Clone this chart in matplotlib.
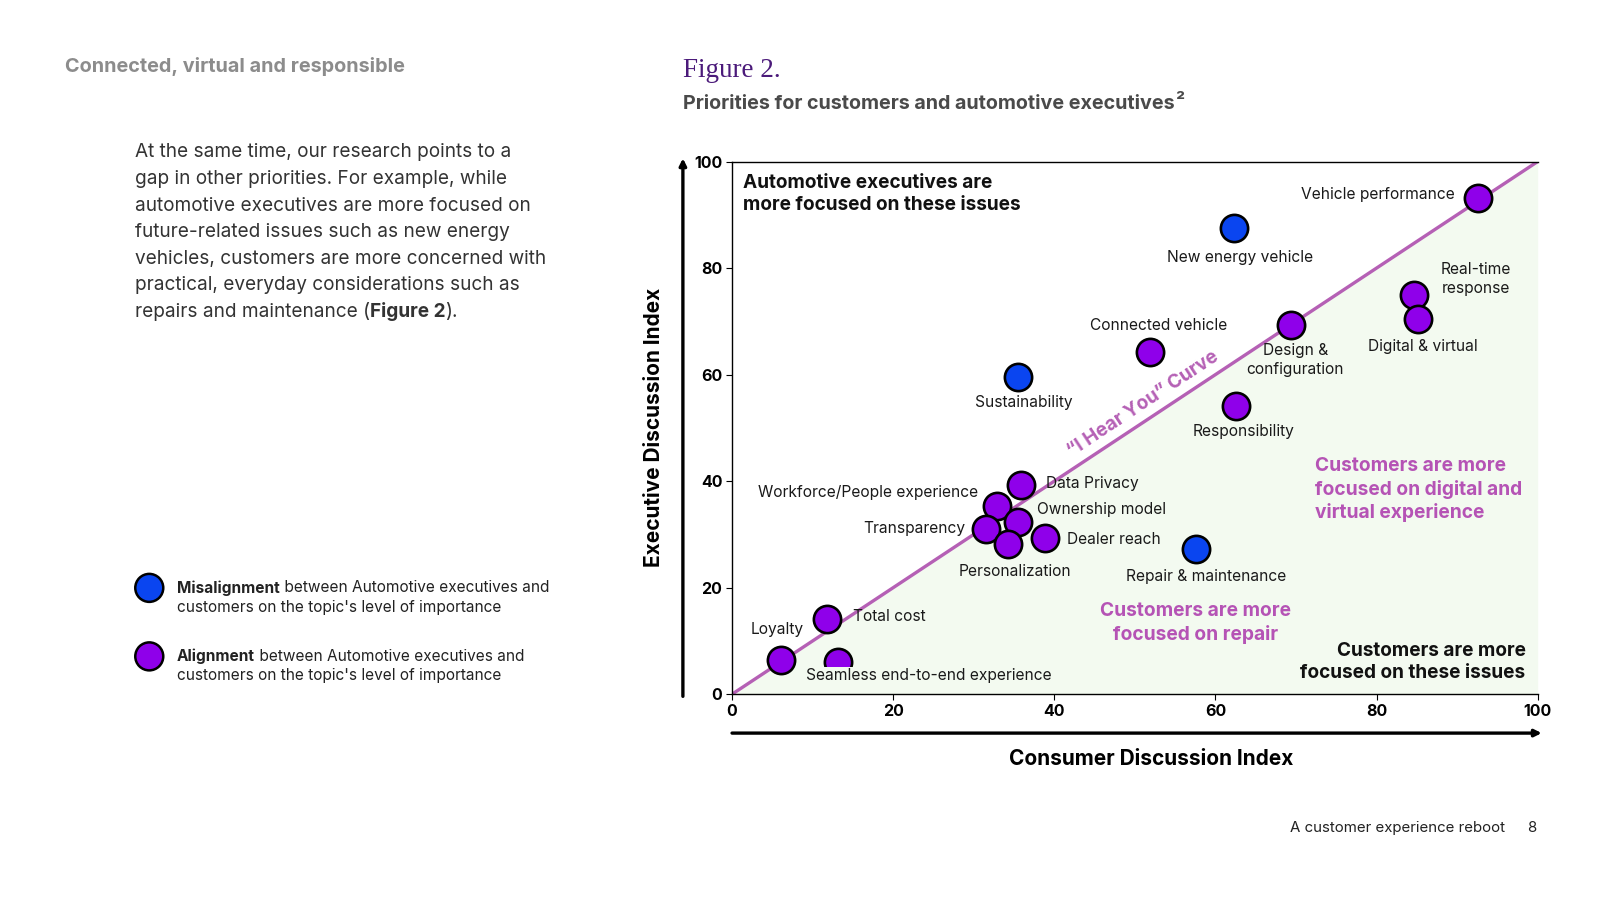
import matplotlib
matplotlib.use("Agg")
import matplotlib.pyplot as plt

plt.rcParams['font.family'] = ['Inter', 'DejaVu Sans']

# ── data ──────────────────────────────────────────────
TOPICS = ["Vehicle performance", "New energy vehicle", "Real-time\nresponse",
          "Digital & virtual", "Design &\nconfiguration", "Connected vehicle",
          "Sustainability", "Responsibility", "Data Privacy",
          "Workforce/People experience", "Ownership model", "Transparency",
          "Personalization", "Dealer reach", "Repair & maintenance",
          "Total cost", "Loyalty", "Seamless end-to-end experience"]
CONSUMER = [92.6, 62.3, 84.6, 85.2, 69.4, 51.9, 35.5, 62.6, 35.9,
            32.9, 35.5, 31.5, 34.3, 38.8, 57.6, 11.8, 6.1, 13.1]
EXECUTIVE = [93.1, 87.5, 74.9, 70.4, 69.3, 64.3, 59.5, 54.1, 39.2,
             35.3, 32.4, 31.1, 28.2, 29.4, 27.3, 14.2, 6.5, 6.0]
ALIGNED = [True, False, True, True, True, True, False, True, True,
           True, True, True, True, True, False, True, True, True]
TICKS = [0, 20, 40, 60, 80, 100]

# label offsets in pixels (dx, dy, ha)
LABEL_POS = {
    "Vehicle performance": (-23, 4, "right"),
    "New energy vehicle": (6, -29, "center"),
    "Real-time\nresponse": (61, 16, "center"),
    "Digital & virtual": (4, -27, "center"),
    "Design &\nconfiguration": (4, -34, "center"),
    "Connected vehicle": (8, 26, "center"),
    "Sustainability": (6, -25, "center"),
    "Responsibility": (7, -25, "center"),
    "Data Privacy": (24, 2, "left"),
    "Workforce/People experience": (-19, 13, "right"),
    "Ownership model": (19, 12, "left"),
    "Transparency": (-20, 0, "right"),
    "Personalization": (6, -27, "center"),
    "Dealer reach": (22, -2, "left"),
    "Repair & maintenance": (10, -27, "center"),
    "Total cost": (25, 2, "left"),
    "Loyalty": (-4, 29, "center"),
    "Seamless end-to-end experience": (89, -13, "center"),
}

BLUE = "#0a45f0"
PURPLE = "#8f00ea"
LINE = "#b560b5"
PINK = "#b553b5"
GREEN_BG = "#f3faf0"

W, H = 1600, 900
S = 1.0224  # 版面坐标是按 1565 宽量的,放大到 1600


def fx(x):
    return x * S / W


def fy(y):
    return 1 - y * S / H


fig = plt.figure(figsize=(16, 9), dpi=100)
fig.patch.set_facecolor("white")
renderer = fig.canvas.get_renderer()


def rich_line(x, y, parts, size, color):
    # 一行里混排粗细体; part = (text, weight[, size, dy])
    x = fx(x)
    for p in parts:
        s, w = p[0], p[1]
        sz = p[2] if len(p) > 2 else size
        dy = p[3] if len(p) > 3 else 0
        t = fig.text(x, fy(y + dy), s, fontsize=sz, fontweight=w, color=color,
                     ha="left", va="center")
        bb = t.get_window_extent(renderer)
        x = bb.x1 / fig.bbox.width


# ── left column ──
fig.text(fx(64), fy(65), "Connected, virtual and responsible", fontsize=14.3,
         fontweight="bold", color="#8c8c8c", va="center")

para = ["At the same time, our research points to a",
        "gap in other priorities. For example, while",
        "automotive executives are more focused on",
        "future-related issues such as new energy",
        "vehicles, customers are more concerned with",
        "practical, everyday considerations such as"]
for i, line in enumerate(para):
    fig.text(fx(132), fy(149 + 26 * i), line, fontsize=13.7, color="#333333",
             va="center")
rich_line(132, 149 + 26 * 6, [("repairs and maintenance (", "normal"),
                              ("Figure 2", "bold"), (").", "normal")],
          13.7, "#333333")

# legend
for yc, col, word in [(575, BLUE, "Misalignment"), (642, PURPLE, "Alignment")]:
    fig.patches.append(matplotlib.patches.Ellipse(
        (fx(146), fy(yc)), 28 / W, 28 / H, transform=fig.transFigure,
        facecolor=col, edgecolor="black", lw=1.8))
    rich_line(173, yc, [(word, "bold"),
                        (" between Automotive executives and", "normal")],
              11.1, "#222222")
    fig.text(fx(173), fy(yc + 19), "customers on the topic's level of importance",
             fontsize=11.1, color="#222222", va="center")

# ── titles ──
fig.text(fx(668), fy(69), "Figure 2.", fontsize=19.5, family="Liberation Serif",
         color="#4b1a7a", va="center")
rich_line(668, 102, [("Priorities for customers and automotive executives", "bold"),
                     ("\u00b2", "bold", 14.2, -1)], 14.2, "#4a4a4a")

# ── chart ──
ax = fig.add_axes([fx(716), fy(679), (1504 - 716) * S / W, (679 - 158) * S / H])
ax.set_xlim(0, 100)
ax.set_ylim(0, 100)
ax.fill_between([0, 100], [0, 100], 0, color=GREEN_BG, zorder=0, lw=0)
ax.plot([0, 100], [0, 100], color=LINE, lw=2.4, zorder=1)

for x, y, a in zip(CONSUMER, EXECUTIVE, ALIGNED):
    ax.scatter(x, y, s=385, color=PURPLE if a else BLUE, edgecolor="black",
               linewidth=1.9, zorder=3, clip_on=False)

for name, x, y in zip(TOPICS, CONSUMER, EXECUTIVE):
    dx, dy, ha = LABEL_POS[name]
    kw = {}
    if name.startswith("Seamless"):
        kw["bbox"] = dict(facecolor=GREEN_BG, edgecolor="none", pad=1)
    ax.annotate(name, (x, y), xytext=(dx * S, dy * S), textcoords="offset pixels",
                ha=ha, va="center", fontsize=11.2, color="#1a1a1a",
                linespacing=1.28, zorder=4, **kw)

ax.text(51.0, 54.4, "\u201cI Hear You\u201d Curve", rotation=45,
        transform_rotates_text=True, rotation_mode="anchor", ha="center",
        va="center", fontsize=13.7, fontweight="bold", color=LINE)

ax.text(1.4, 93.9, "Automotive executives are\nmore focused on these issues",
        fontsize=13.7, fontweight="bold", color="#111111", ha="left",
        va="center", linespacing=1.3)
ax.text(72.3, 38.4, "Customers are more\nfocused on digital and\nvirtual experience",
        fontsize=13.8, fontweight="bold", color=PINK, ha="left", va="center",
        linespacing=1.3)
ax.text(57.5, 13.4, "Customers are more\nfocused on repair", fontsize=13.8,
        fontweight="bold", color=PINK, ha="center", va="center",
        linespacing=1.3)
ax.text(98.5, 6.1, "Customers are more\nfocused on these issues", fontsize=13.7,
        fontweight="bold", color="#111111", ha="right", va="center",
        linespacing=1.3)

ax.set_xticks(TICKS)
ax.set_yticks(TICKS)
ax.tick_params(axis="both", length=4, width=0.8, labelsize=11.5, pad=3)
for lab in ax.get_xticklabels() + ax.get_yticklabels():
    lab.set_fontweight("bold")
ax.spines["right"].set_visible(False)
for s in ["top", "left", "bottom"]:
    ax.spines[s].set_linewidth(1.0)
ax.set_facecolor("white")

# axis arrows
ax.annotate("", xy=(-0.061, 1.006), xytext=(-0.061, -0.004),
            xycoords="axes fraction",
            arrowprops=dict(arrowstyle="-|>", lw=2.4, color="black",
                            mutation_scale=10, shrinkA=0, shrinkB=0))
ax.annotate("", xy=(1.005, -0.073), xytext=(0.0, -0.073),
            xycoords="axes fraction",
            arrowprops=dict(arrowstyle="-|>", lw=2.4, color="black",
                            mutation_scale=10, shrinkA=0, shrinkB=0))

fig.text(fx(640), fy(418), "Executive Discussion Index", rotation=90,
         fontsize=15, fontweight="bold", ha="center", va="center")
fig.text(fx(1126), fy(742), "Consumer Discussion Index", fontsize=15,
         fontweight="bold", ha="center", va="center")

# footer
fig.text(fx(1472), fy(810), "A customer experience reboot", fontsize=10.8,
         color="#222222", ha="right", va="center")
fig.text(fx(1503), fy(810), "8", fontsize=10.8, color="#222222", ha="right",
         va="center")

fig.savefig("out.png", dpi=100)
